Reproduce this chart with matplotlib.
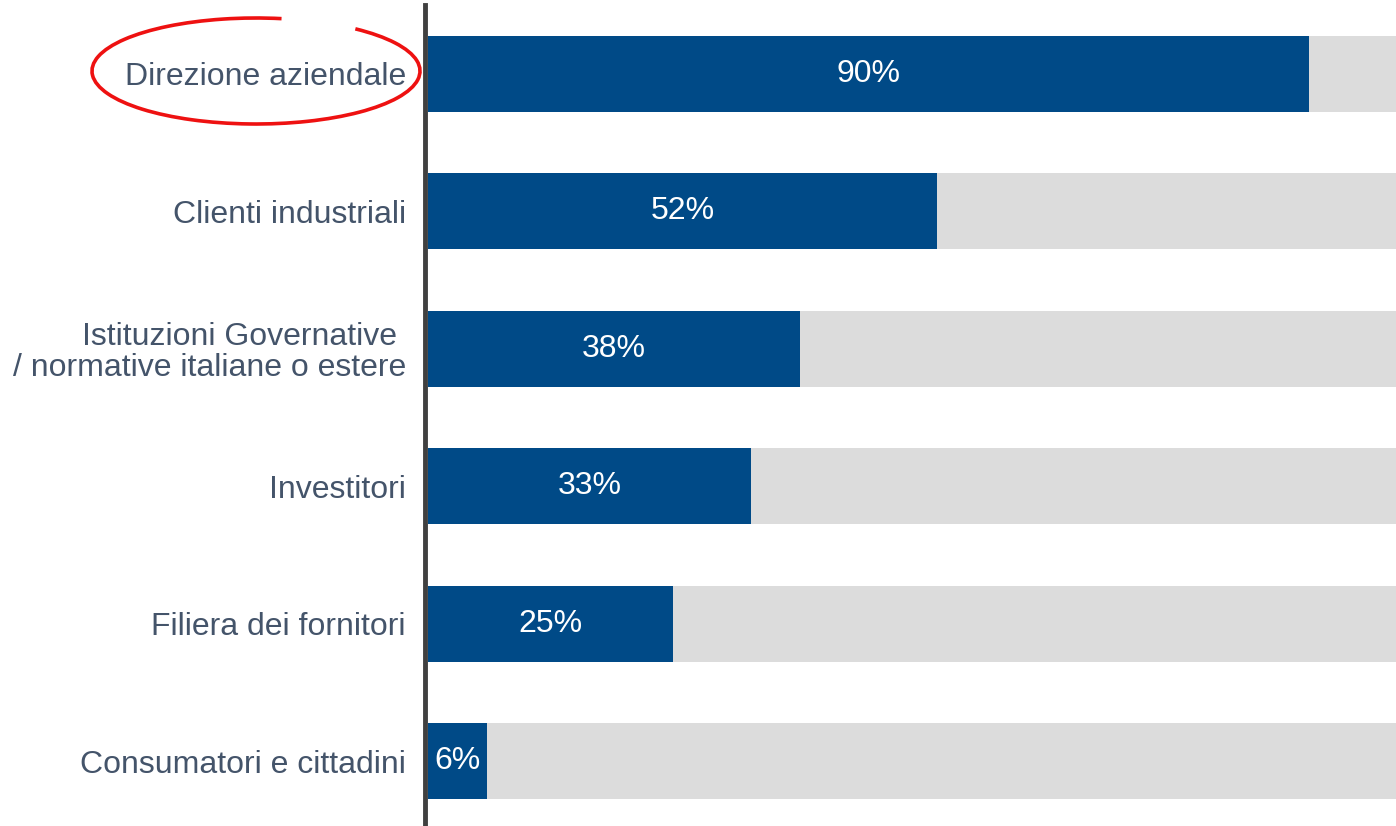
import matplotlib.pyplot as plt
from matplotlib.patches import Arc

categories = ['Direzione aziendale', 'Clienti industriali',
              'Istituzioni Governative \n/ normative italiane o estere',
              'Investitori', 'Filiera dei fornitori', 'Consumatori e cittadini']
values = [90, 52, 38, 33, 25, 6]
totals = [100] * len(values)

plt.rcParams['font.family'] = ['Liberation Sans', 'DejaVu Sans']

W, H = 1396, 826
fig = plt.figure(figsize=(W / 100, H / 100), dpi=100)
ax = fig.add_axes([428 / W, 0, (1407 - 428) / W, 821 / H])

y = list(range(len(categories)))
ax.barh(y, totals, height=0.553, color='#dcdcdc')
ax.barh(y, values, height=0.553, color='#004a87')
for yi, v in zip(y, values):
    ax.text(v / 2, yi, '{}%'.format(v), ha='center', va='center',
            color='white', fontsize=23)

for s in ['top', 'right', 'bottom']:
    ax.spines[s].set_visible(False)
ax.spines['left'].set_position(('outward', 2))
ax.spines['left'].set_linewidth(3.5)
ax.spines['left'].set_color('#404040')

ax.set_xlim(0, 100)
ax.set_ylim(5.473, -0.502)
ax.set_xticks([])
ax.set_yticks(y)
ax.set_yticklabels(categories, fontsize=23, color='#44546a',
                   linespacing=1.05)
ax.tick_params(axis='y', length=0, pad=14)

# hand-drawn circle around the first label
ov = fig.add_axes([0, 0, 1, 1])
ov.set_xlim(0, W)
ov.set_ylim(0, H)
ov.axis('off')
ov.patch.set_alpha(0)
ov.add_patch(Arc((256, H - 71), 328, 106, theta1=64, theta2=383,
                 color='#ee1111', lw=2.6))

fig.savefig('out.png', dpi=100)
